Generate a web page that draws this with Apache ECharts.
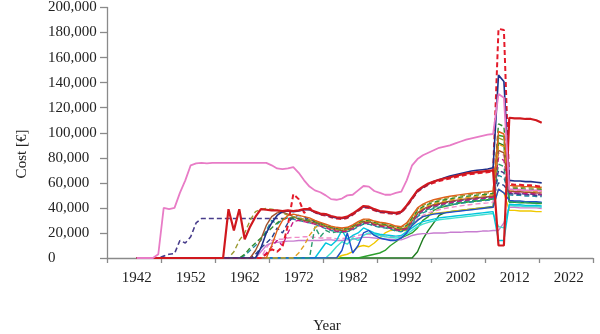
<!DOCTYPE html>
<html>
<head>
<meta charset="utf-8">
<script src="https://cdn.jsdelivr.net/npm/echarts@6/dist/echarts.min.js"></script>
<style>
html,body{margin:0;padding:0;background:#fff;}
#chart{width:600px;height:334px;}
</style>
</head>
<body>
<div id="chart"></div>
<script>
// Category axis years (first and last categories are empty padding, as in the reference)
const firstYear = 1937, lastYear = 2026, dataStartYear = 1942;
const yTicks = [0, 20000, 40000, 60000, 80000, 100000, 120000, 140000, 160000, 180000, 200000];

// Each series: start = first year with a non-zero value (0 from 1942 until then), v = values in thousands of €
const pinkTop = { start: 1946, v: [
  3, 40, 39, 40,
  52, 62, 74, 75.5, 76, 75.5, 76, 76, 76, 76,
  76, 76, 76, 76, 76, 76, 76, 74, 71.5, 71,
  71.5, 72.5, 68, 62, 57, 54, 52.5, 50, 47, 46.5,
  47.5, 50, 50.5, 54, 57.5, 57, 53.5, 52, 50.5, 50.5,
  52, 53, 62, 74, 79, 82, 84, 86, 88, 89,
  90, 91.5, 93, 94.5, 95.5, 96.5, 97.5, 98.5, 99, 131,
  128, 55, 54.5, 54.5, 54, 54, 54, 53.5 ] };

const redUpper = { start: 1959, v: [
  39,
  22, 39, 15, 25, 33, 39, 38.5, 38, 38, 37.5,
  38, 37.5, 38, 39, 39, 37, 35.5, 35, 33.5, 32.5,
  32, 33, 35.5, 38.5, 41.5, 41, 39, 37.5, 37, 36.5,
  36, 37, 42, 48, 54, 57, 59.5, 61, 62.5, 63.5,
  64.5, 65.5, 66.5, 67.5, 68, 68.5, 69, 69.5, 70, 10,
  10, 112, 111.5, 111.5, 111, 111, 110, 108 ] };

const navyUpper = { start: 1965, v: [
  8, 20, 28, 34, 37,
  37.5, 37, 37.5, 38.5, 38.5, 36.5, 35, 34.5, 33, 32,
  31.5, 32.5, 35, 38, 41, 40.5, 38.5, 37, 36.5, 36,
  35.5, 36.5, 41.5, 47.5, 53.5, 56.5, 59, 61, 62.5, 64,
  65.5, 66.5, 67.5, 68.5, 69.5, 70, 70.5, 71, 72, 146,
  141, 62, 61.5, 61.5, 61, 61, 60.5, 60 ] };

const redDashed = { start: 1966, v: [
  3, 7, 5, 9,
  26, 51, 47, 36, 40, 36.5, 34.5, 34, 32.5, 31.5,
  31, 32, 34.5, 37.5, 40.5, 40, 38, 36.5, 36, 35.5,
  35, 36, 41, 47, 53, 56, 58.5, 60, 61.5, 62.5,
  63.5, 64.5, 65.5, 66.5, 67, 67.5, 68, 68.5, 69, 183,
  182, 59, 58.5, 58.5, 58, 58, 57.5, 57 ] };

const orangeBand = { start: 1967, v: [
  10, 22, 30,
  34, 35, 34, 33, 32, 30, 28.5, 27, 25.5, 24.5,
  24, 24.5, 26.5, 29, 31, 31, 29.5, 28.5, 28, 27,
  25.5, 25, 28, 34, 40, 43, 45, 46.5, 47.5, 48.5,
  49.3, 50, 50.6, 51.2, 51.7, 52.2, 52.6, 53, 53.5, 101,
  99, 58, 57.5, 57.5, 57, 57, 56.5, 56.5 ] };

const oliveDashed = { start: 1960, v: [
  5, 14, 20, 30, 37, 39, 39.5, 39, 38, 36,
  34, 33, 32, 31, 30.5, 29.5, 28, 26.5, 25, 24,
  23.5, 24, 26, 28.5, 30.5, 30.5, 29, 28, 27.5, 26.5,
  25, 24.5, 27, 33, 39, 42, 44, 45.5, 46.5, 47.5,
  48.3, 49, 49.6, 50.2, 50.7, 51.2, 51.6, 52, 52.5, 96,
  94, 57, 56.5, 56.5, 56, 56, 55.5, 55.5 ] };

const greenDashed = { start: 1962, v: [
  3, 8, 12, 16, 20, 24, 28, 31,
  32, 32, 31.5, 30.5, 30, 29, 27.5, 26, 24.5, 23.5,
  23, 23.5, 25.5, 28, 30, 30, 28.5, 27.5, 27, 26,
  24.5, 24, 26, 32, 38, 41, 43, 44.5, 45.5, 46.5,
  47.3, 48, 48.6, 49.2, 49.7, 50.2, 50.6, 51, 51.5, 107,
  105, 56, 55.5, 55.5, 55, 55, 54.5, 54.5 ] };

const yellowDashed = { start: 1972, v: [
  4, 10, 18, 24, 27, 25.5, 24, 23,
  22.5, 23, 25, 27.5, 29.5, 29.5, 28, 27, 26.5, 25.5,
  24, 23.5, 25, 31, 37, 40, 42, 43.5, 44.5, 45.5,
  46.3, 47, 47.6, 48.2, 48.7, 49.2, 49.6, 50, 50.5, 91,
  89, 54.5, 54, 54, 53.5, 53.5, 53, 53 ] };

const brownBand = { start: 1964, v: [
  6, 15, 26, 33, 36, 36.5,
  35, 33, 31, 30, 29, 28, 26.5, 25, 23.5, 22.5,
  22, 22.5, 24.5, 27, 29, 29, 27.5, 26.5, 26, 25,
  23.5, 23, 24.5, 30, 36, 39, 41, 42.5, 43.5, 44.5,
  45.3, 46, 46.6, 47.2, 47.7, 48.2, 48.6, 49, 49.5, 86,
  84, 53.5, 53, 53, 52.5, 52.5, 52, 52 ] };

const magentaDashed = { start: 1966, v: [
  4, 9, 14, 10,
  20, 29, 30, 29, 28, 27, 25.5, 24, 22.5, 21.5,
  21, 21.5, 23.5, 26, 28, 28, 26.5, 25.5, 25, 24,
  22.5, 22, 23.5, 29, 35, 38, 40, 41.5, 42.5, 43.5,
  44.3, 45, 45.6, 46.2, 46.7, 47.2, 47.6, 48, 48.5, 80,
  78, 52.5, 52, 52, 51.5, 51.5, 51, 51 ] };

const tealGreenDashed = { start: 1975, v: [
  25, 17, 22, 20, 21,
  20.5, 21, 23, 25.5, 27.5, 27.5, 26, 25, 24.5, 23.5,
  22, 21.5, 23, 28, 34, 37, 39, 40.5, 41.5, 42.5,
  43.3, 44, 44.6, 45.2, 45.7, 46.2, 46.6, 47, 47.5, 75,
  73, 45, 44.5, 44.5, 44.5, 44, 44, 44 ] };

const purpleDashed = { start: 1947, v: [
  1.5, 3, 3.5,
  14, 12, 17, 28, 31.5, 31.5, 31.5, 31.5, 31.5, 31.5,
  31.5, 31.5, 31.5, 31.5, 31.5, 31.5, 31.5, 31.5, 31.5, 31.5,
  31.5, 31.5, 31.5, 31.5, 30.5, 29.5, 27.5, 26, 24, 23,
  22.5, 23, 25, 27, 29, 29, 27.5, 26.5, 26, 25,
  23.5, 23, 24.5, 30, 35.5, 38.5, 40.5, 42, 43, 44,
  44.8, 45.5, 46.1, 46.7, 47.2, 47.7, 48.1, 48.5, 49, 70,
  68, 51.5, 51, 51, 50.5, 50.5, 50, 50 ] };

const tealDashed = { start: 1962, v: [
  2, 6, 10, 14, 22, 30, 27, 31,
  32, 31, 30, 29, 28, 27, 25, 23.5, 22, 21,
  20.5, 21, 22.5, 25, 27, 27, 25.5, 24.5, 24, 23,
  21.5, 21, 22.5, 27, 33, 36, 38, 39.5, 40.5, 41.5,
  42.3, 43, 43.6, 44.2, 44.7, 45.2, 45.6, 46, 46.5, 66,
  64, 50.5, 50, 50, 49.5, 49.5, 49, 49 ] };

const navyDashed = { start: 1964, v: [
  3, 8, 12, 16, 24, 20,
  28, 33, 34, 33, 31, 29, 27, 25.5, 24, 23,
  22, 22.5, 24.5, 26.5, 28.5, 28.5, 27, 26, 25.5, 24.5,
  23, 22.5, 24, 29.5, 35, 38, 40, 41.5, 42.5, 43.5,
  44.3, 45, 45.6, 46.2, 46.7, 47.2, 47.6, 48, 48.5, 60,
  58, 52, 51.5, 51.5, 51, 51, 50.5, 50.5 ] };

const blueLine = { start: 1980, v: [
  6, 20, 4, 10, 20, 22, 18, 16, 15, 14,
  14, 16, 20, 26, 30, 33, 34, 35, 35.5, 36,
  36.5, 37, 37.5, 38, 38.5, 39, 39.5, 40, 40.5, 55,
  52, 46, 45.5, 45.5, 45, 45, 45, 44.5 ] };

const cyanLine = { start: 1976, v: [
  6, 12, 10, 14,
  22, 15, 18, 20, 24, 22, 20, 19, 18.5, 18,
  17.5, 18, 21, 24, 27, 29, 30, 31, 32, 32.5,
  33, 33.5, 34, 34.5, 35, 35.5, 36, 36.5, 37, 14,
  14, 43, 42.5, 42.5, 42, 42, 42, 41.5 ] };

const turquoiseLine = { start: 1978, v: [
  4, 9,
  13, 11, 16, 14, 18, 20, 19, 18, 17, 16.5,
  16, 16.5, 19, 22, 25, 27, 28.5, 29.5, 30.5, 31,
  31.5, 32, 32.5, 33, 33.5, 34, 34.5, 35, 35.5, 25,
  24, 42, 41.5, 41.5, 41, 41, 41, 40.5 ] };

const violetLine = { start: 1965, v: [
  5, 10, 12, 12.5, 13,
  13.5, 13.5, 14, 14, 14, 14, 14, 14.5, 14.5, 14,
  14, 14.5, 15, 16, 16.5, 16.5, 16, 15.5, 15, 15,
  14.5, 14.5, 16, 18, 19, 19.5, 19.5, 20, 20, 20,
  20.5, 20.5, 20.5, 21, 21, 21, 21.5, 21.5, 22, 22,
  28, 40.5, 40.5, 40, 40, 40, 40, 39.5 ] };

const pinkDashed = { start: 1966, v: [
  8, 14, 15, 15,
  16, 16.5, 16.5, 17, 17, 16.5, 16, 16, 16, 15.5,
  15.5, 16, 17, 18, 19, 19, 18.5, 18, 17.5, 17,
  17, 17.5, 20, 26, 31, 34, 36, 37.5, 38.5, 39.5,
  40.3, 41, 41.6, 42.2, 42.7, 43.2, 43.6, 44, 44.5, 84,
  82, 53, 52.5, 52.5, 52, 52, 51.5, 51.5 ] };

const yellowLine = { start: 1980, v: [
  2, 3, 5, 9, 10, 9, 12, 16, 20, 22,
  22.5, 22, 22, 26, 30, 33, 34.5, 35.5, 36, 36.5,
  37, 37.5, 38, 38.5, 39, 39.5, 39.8, 40, 40.5, 55,
  52, 38, 38, 37.5, 37.5, 37.5, 37, 37 ] };

const greenLine = { start: 1984, v: [
  1, 2, 3, 4, 6, 10,
  13, 16, 18, 20, 24, 30, 33, 38, 40, 41,
  42, 43, 44, 44.5, 45, 45.5, 46, 46.5, 47, 98,
  97, 44.5, 44.5, 44, 44, 44, 43.5, 43.5 ] };

const darkGreenLine = { start: 1994, v: [
  5, 15, 22, 28, 34, 36,
  37, 37.5, 38, 38.5, 39, 39.5, 40, 40.5, 41, 92,
  90, 45, 44.5, 44.5, 44.5, 44, 44, 44 ] };

// Drawing order (first drawn at bottom) with colours and dash styles
const seriesOrder = [
  ['darkGreenLine', darkGreenLine, '#1e7b1e', 'solid', 1.4],
  ['greenLine', greenLine, '#2ca02c', 'solid', 1.4],
  ['yellowLine', yellowLine, '#f0c800', 'solid', 1.4],
  ['pinkDashed', pinkDashed, '#f08cc8', 'dashed', 1.4],
  ['violetLine', violetLine, '#c77dd0', 'solid', 1.4],
  ['turquoiseLine', turquoiseLine, '#40e0d0', 'solid', 1.4],
  ['cyanLine', cyanLine, '#00c5dd', 'solid', 1.4],
  ['blueLine', blueLine, '#1f4fc8', 'solid', 1.4],
  ['navyDashed', navyDashed, '#27408b', 'dashed', 1.4],
  ['tealDashed', tealDashed, '#1f8f9f', 'dashed', 1.4],
  ['purpleDashed', purpleDashed, '#483d8b', 'dashed', 1.6],
  ['tealGreenDashed', tealGreenDashed, '#2a9d6f', 'dashed', 1.4],
  ['magentaDashed', magentaDashed, '#c71585', 'dashed', 1.4],
  ['brownBand', brownBand, '#a0522d', 'solid', 1.4],
  ['yellowDashed', yellowDashed, '#e0a020', 'dashed', 1.4],
  ['greenDashed', greenDashed, '#2e8b2e', 'dashed', 1.4],
  ['oliveDashed', oliveDashed, '#9a9a30', 'dashed', 1.4],
  ['orangeBand', orangeBand, '#e0601a', 'solid', 1.4],
  ['redDashed', redDashed, '#e41a2a', 'dashed', 2],
  ['navyUpper', navyUpper, '#1c2f8a', 'solid', 1.6],
  ['redUpper', redUpper, '#d0181e', 'solid', 2.2],
  ['pinkTop', pinkTop, '#e87cc6', 'solid', 1.8]
];

const years = [];
for (let y = firstYear; y <= lastYear; y++) years.push(String(y));

function buildData(s) {
  return years.map(function (ys) {
    const y = +ys;
    if (y < dataStartYear) return null;
    if (y < s.start) return 0;
    const i = y - s.start;
    return i < s.v.length ? s.v[i] * 1000 : null;
  });
}

const series = seriesOrder.map(function (d) {
  return {
    name: d[0], type: 'line', data: buildData(d[1]),
    symbol: 'none', showSymbol: false, connectNulls: false,
    lineStyle: { color: d[2], width: d[4], type: d[3] === 'dashed' ? [5, 3] : 'solid' },
    itemStyle: { color: d[2] },
    emphasis: { disabled: true }, silent: true, z: 2
  };
});

const serif = '"Liberation Serif", "Times New Roman", serif';
const chart = echarts.init(document.getElementById('chart'), null, { renderer: 'canvas' });
chart.setOption({
  animation: false,
  backgroundColor: '#fff',
  grid: { left: 107, right: 7, top: 6, bottom: 76, containLabel: false },
  xAxis: {
    type: 'category', data: years, boundaryGap: true,
    axisLine: { show: true, lineStyle: { color: '#8a8a8a', width: 1.3 } },
    axisTick: { show: true, interval: function (i) { return i % 10 === 0; }, length: 5, lineStyle: { color: '#8a8a8a', width: 1.3 } },
    axisLabel: { interval: function (i) { return i % 10 === 5; }, fontFamily: serif, fontSize: 15, color: '#222', margin: 13 },
    splitLine: { show: false }
  },
  yAxis: {
    type: 'value', min: yTicks[0], max: yTicks[yTicks.length - 1], interval: yTicks[1] - yTicks[0],
    axisLine: { show: true, lineStyle: { color: '#8a8a8a', width: 1.3 } },
    axisTick: { show: true, length: 7, lineStyle: { color: '#8a8a8a', width: 1.3 } },
    axisLabel: { align: 'left', margin: 59, fontFamily: serif, fontSize: 15, color: '#222',
      formatter: function (v) { return v.toLocaleString('en-US'); } },
    splitLine: { show: false }
  },
  graphic: [
    { type: 'text', x: 22, y: 154, rotation: Math.PI / 2,
      style: { text: 'Cost [€]', font: '15px ' + serif, fill: '#222', align: 'center', verticalAlign: 'middle' } },
    { type: 'text', x: 327, y: 326,
      style: { text: 'Year', font: '15px ' + serif, fill: '#222', align: 'center', verticalAlign: 'middle' } }
  ],
  series: series
});
</script>
</body>
</html>
